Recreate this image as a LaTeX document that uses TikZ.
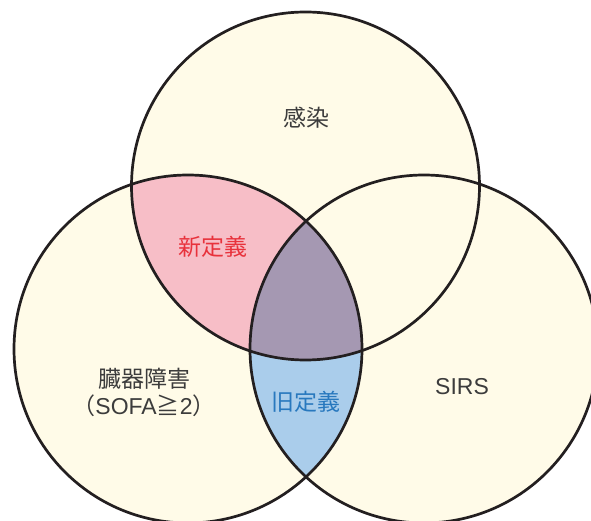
\documentclass[tikz,border=0pt]{standalone}
\usepackage{fontspec}
\setmainfont{Noto Sans CJK JP}
\newfontfamily\latinf{Liberation Sans}
\definecolor{cream}{RGB}{255,251,232}
\definecolor{pinkf}{RGB}{247,190,199}
\definecolor{purplef}{RGB}{165,152,178}
\definecolor{bluef}{RGB}{170,205,235}
\definecolor{linec}{RGB}{35,31,32}
\definecolor{textg}{RGB}{60,60,60}
\definecolor{redt}{RGB}{232,50,60}
\definecolor{bluet}{RGB}{40,120,190}
\tikzset{
  ring/.style={draw=linec, line width=2.7pt},
  lbl/.style={font=\fontsize{23}{27}\selectfont, text=textg, inner sep=0pt, align=center}
}
\begin{document}
\begin{tikzpicture}[x=1pt,y=-1pt]
\useasboundingbox (0,0) rectangle (591,521);
\def\R{174pt}
\coordinate (ct) at (305.5,186);
\coordinate (cl) at (188,349);
\coordinate (cr) at (424,349);
\begin{scope}
\clip (0,0) rectangle (591,521);
\fill[cream] (ct) circle[radius=\R];
\fill[cream] (cl) circle[radius=\R];
\fill[cream] (cr) circle[radius=\R];
\begin{scope}
\clip (ct) circle[radius=\R];
\fill[pinkf] (cl) circle[radius=\R];
\end{scope}
\begin{scope}
\clip (cl) circle[radius=\R];
\fill[bluef] (cr) circle[radius=\R];
\end{scope}
\begin{scope}
\clip (ct) circle[radius=\R];
\clip (cl) circle[radius=\R];
\fill[purplef] (cr) circle[radius=\R];
\end{scope}
\draw[ring] (ct) circle[radius=\R];
\draw[ring] (cl) circle[radius=\R];
\draw[ring] (cr) circle[radius=\R];
\end{scope}
\node[lbl] (kansen) at (306,118) {感染};
\node[lbl, text=redt] (shin) at (213,247) {新定義};
\node[lbl] (zouki) at (144,392) {臓器障害\\（{\latinf SOFA}≧{\latinf 2}）};
\node[lbl, text=bluet] (kyu) at (306,402) {旧定義};
\node[lbl] (sirs) at (462,387) {\latinf SIRS};
\end{tikzpicture}
\end{document}
